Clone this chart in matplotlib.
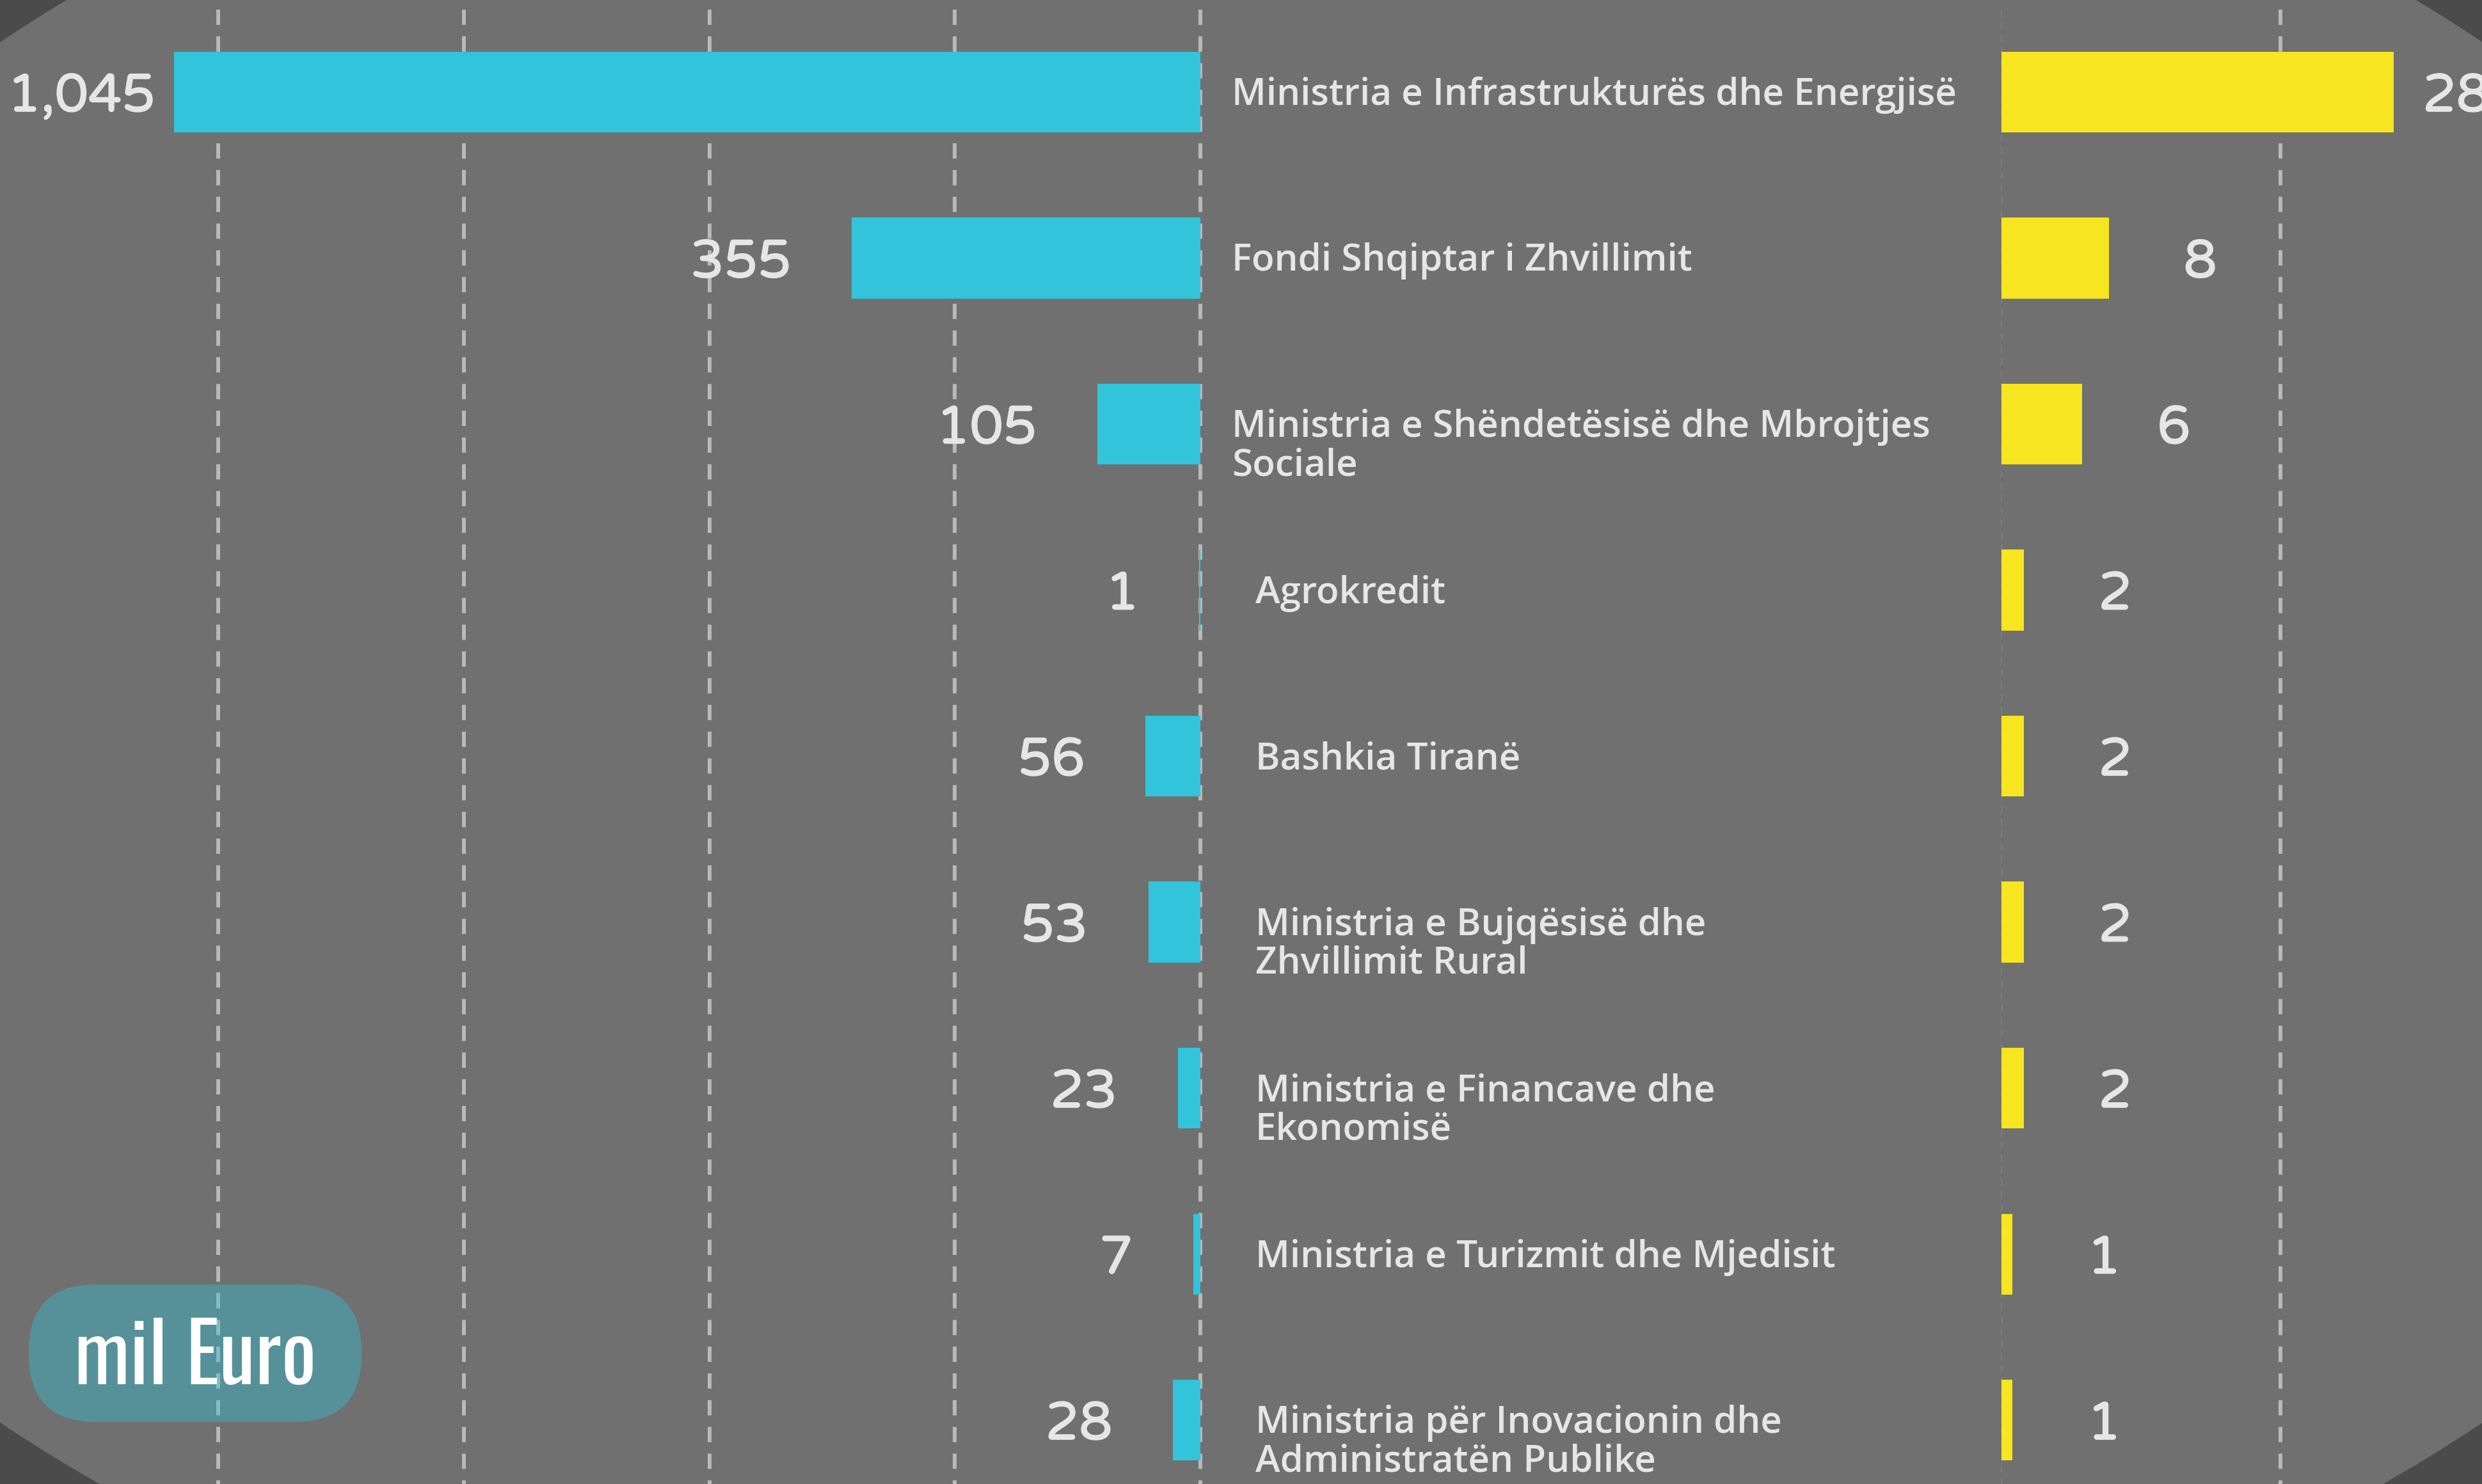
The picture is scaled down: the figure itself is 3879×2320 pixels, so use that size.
import numpy as np
import matplotlib.pyplot as plt
import matplotlib.patheffects as pe
from matplotlib.patches import Ellipse, FancyBboxPatch

# data
institutions = [
    'Ministria e Infrastrukturës dhe Energjisë',
    'Fondi Shqiptar i Zhvillimit',
    'Ministria e Shëndetësisë dhe Mbrojtjes\nSociale',
    'Agrokredit',
    'Bashkia Tiranë',
    'Ministria e Bujqësisë dhe\nZhvillimit Rural',
    'Ministria e Financave dhe\nEkonomisë',
    'Ministria e Turizmit dhe Mjedisit',
    'Ministria për Inovacionin dhe\nAdministratën Publike',
]
left_vals = [1045, 355, 105, 1, 56, 53, 23, 7, 28]
right_vals = [28.1, 7.7, 5.8, 1.6, 1.6, 1.6, 1.6, 0.8, 0.8]
left_grid = [0, 250, 500, 750, 1000]
right_grid = [0, 20]
unit_label = 'mil Euro'

W, H = 3880, 2320
BG_DARK = '#4b4b4b'
BG = '#707070'
CYAN = '#31c4da'
YELLOW = '#f7e51f'
TXT = '#e6e6e6'
GRID = '#b9b9b9'
PX = 72 / 100  # points per pixel
NUM_FONT = ['Varela Round', 'Lato']
NAME_FONT = ['Open Sans']
BADGE_FONT = ['Oswald', 'Barlow Condensed']

fig = plt.figure(figsize=(W / 100, H / 100), dpi=100, facecolor=BG_DARK)

# background ellipse
bg = fig.add_axes([0, 0, 1, 1], zorder=0)
bg.set_xlim(0, W)
bg.set_ylim(H, 0)
bg.axis('off')
bg.add_patch(Ellipse((1940, 1145), 5246, 3206, color=BG, lw=0))

n = len(institutions)
rows = np.arange(n)
ylim = (8.385, -0.497)
top_frac = 2305 / H
x0_left = 1876
x0_right = 3128
sc_left = 1.535   # px per unit
sc_right = 21.8

axl = fig.add_axes([0, 0, x0_left / W, top_frac], zorder=1)
axl.set_xlim(x0_left / sc_left, 0)
axl.set_ylim(*ylim)
axl.axis('off')

axr = fig.add_axes([x0_right / W, 0, (W - x0_right) / W, top_frac], zorder=1)
axr.set_xlim(0, (W - x0_right) / sc_right)
axr.set_ylim(*ylim)
axr.axis('off')

dash = (0, (4, 3))
axl.vlines(left_grid, ylim[1], ylim[0], colors=GRID, lw=4.3, linestyles=[dash], zorder=1, clip_on=False)
axr.vlines(right_grid[1:], ylim[1], ylim[0], colors=GRID, lw=4.3, linestyles=[dash], zorder=1, clip_on=False)
axr.vlines(right_grid[:1], ylim[1], ylim[0], colors='#7a7a7a', lw=2, linestyles=[dash], zorder=1, clip_on=False)

bh = 0.486
axl.barh(rows, left_vals, height=bh, color=CYAN, zorder=2)
axr.barh(rows, right_vals, height=bh, color=YELLOW, zorder=2)

# value labels (stroke thickens the single-weight rounded font)
thick = [pe.withStroke(linewidth=1.2, foreground=TXT)]
for i, v in enumerate(left_vals):
    pad = 21 if v == max(left_vals) else 68
    axl.annotate(f'{v:,}', (v, i), xytext=(-pad, -30 * PX), textcoords='offset points',
                 ha='right', va='baseline', fontsize=60, fontfamily=NUM_FONT,
                 color=TXT, annotation_clip=False, zorder=3, path_effects=thick)
for i, v in enumerate(right_vals):
    pad = 33 if v == max(right_vals) else 84
    axr.annotate(f'{round(v)}', (v, i), xytext=(pad, -30 * PX), textcoords='offset points',
                 ha='left', va='baseline', fontsize=60, fontfamily=NUM_FONT,
                 color=TXT, annotation_clip=False, zorder=3, path_effects=thick)

# institution names
for i, name in enumerate(institutions):
    indent = 49 if i < 3 else 86
    for j, line in enumerate(name.split('\n')):
        axl.annotate(line, (0, i), xytext=(indent * PX, -(20 + 60 * j) * PX),
                     textcoords='offset points', ha='left', va='baseline',
                     fontsize=42, fontfamily=NAME_FONT, fontweight=600, color=TXT,
                     annotation_clip=False, zorder=3)

# unit pill
ov = fig.add_axes([0, 0, 1, 1], zorder=2)
ov.set_xlim(0, W)
ov.set_ylim(H, 0)
ov.axis('off')
ov.add_patch(FancyBboxPatch((45, 2008), 520, 215, boxstyle='round,pad=0,rounding_size=105',
                            fc=CYAN, alpha=0.4, lw=0))
ov.text(305, 2112, unit_label, ha='center', va='center_baseline', fontsize=92,
        fontfamily=BADGE_FONT, fontweight='medium', color='white')

fig.savefig('out.png', dpi=100, facecolor=BG_DARK)
